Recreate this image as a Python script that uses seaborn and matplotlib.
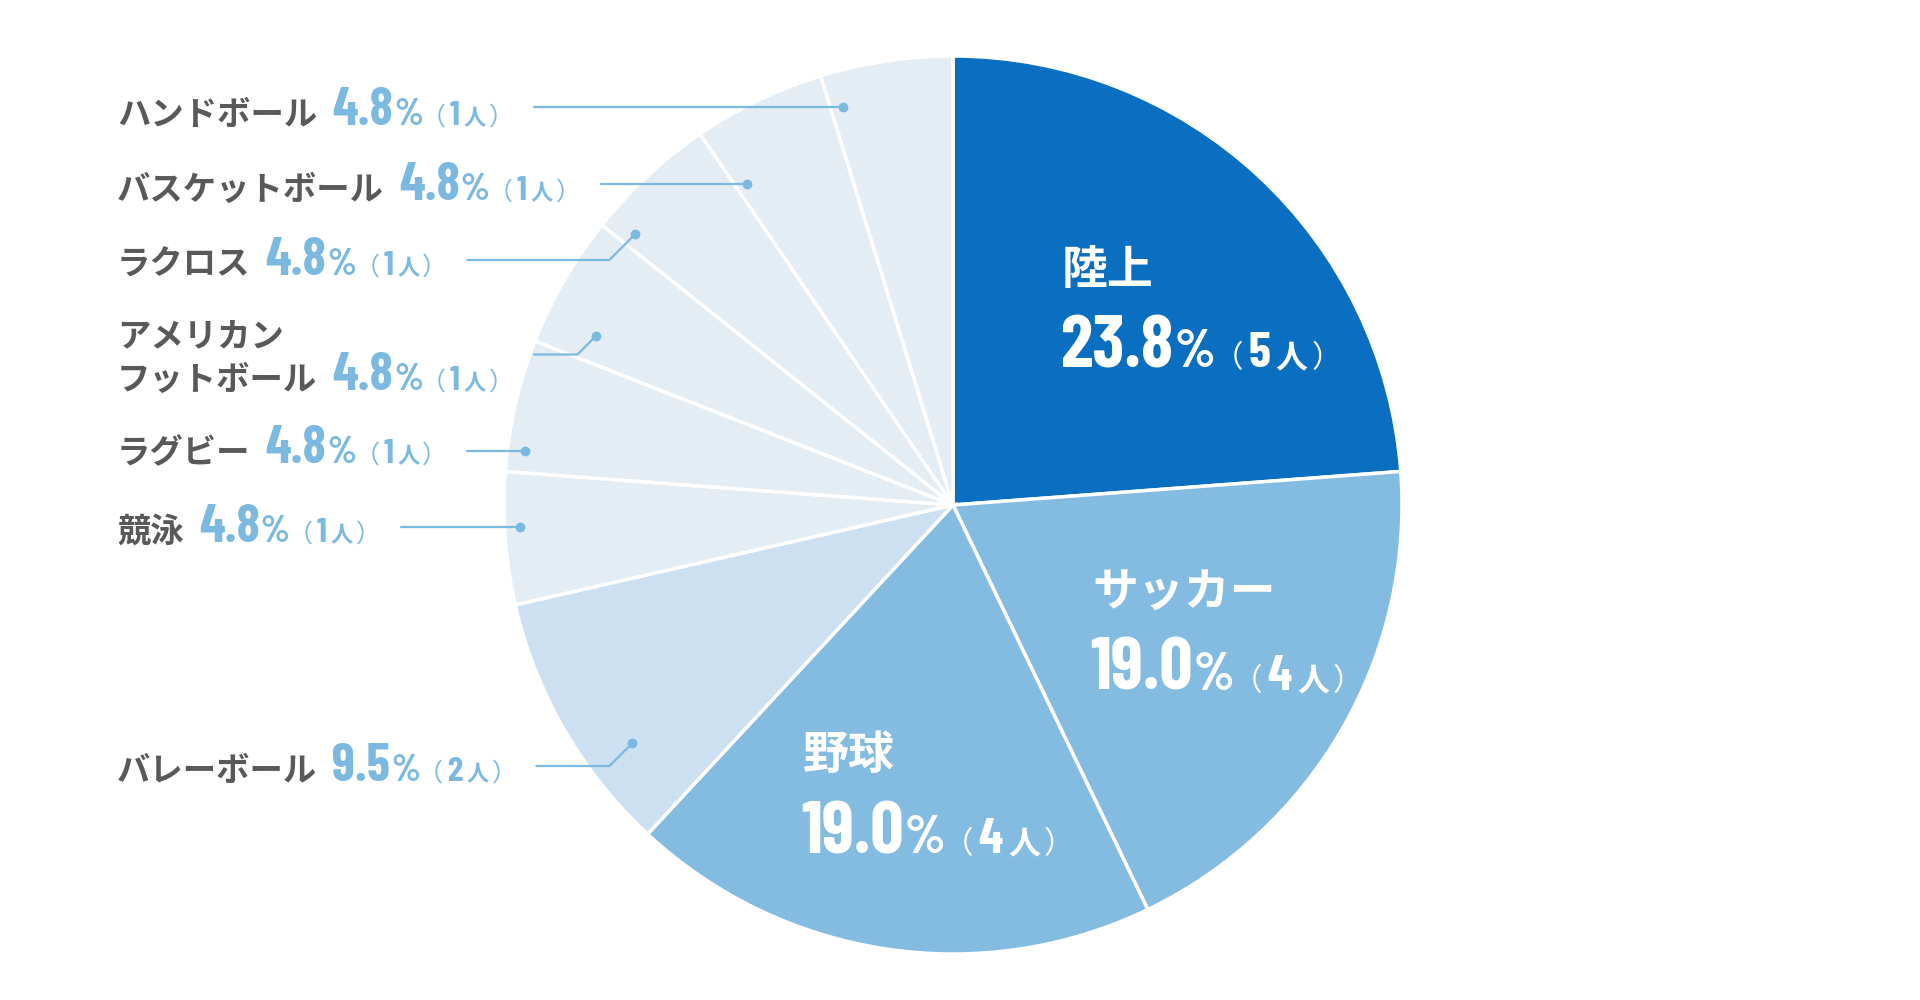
import matplotlib
matplotlib.use("Agg")
import matplotlib.pyplot as plt
import seaborn as sns
import numpy as np

# ---------------- data ----------------
sports = ["陸上", "サッカー", "野球", "バレーボール", "競泳", "ラグビー",
          "アメリカン\nフットボール", "ラクロス", "バスケットボール", "ハンドボール"]
counts = [5, 4, 4, 2, 1, 1, 1, 1, 1, 1]
percents = [23.8, 19.0, 19.0, 9.5, 4.8, 4.8, 4.8, 4.8, 4.8, 4.8]

# ---------------- style ----------------
slice_colors = ["#0b6fc1", "#84bbe1", "#84bbe1", "#cce0f1",
                "#e4ecf4", "#e4ecf4", "#e4ecf4", "#e4ecf4", "#e4ecf4", "#e4ecf4"]
GRAY = "#595959"
BLUE = "#7cb9e1"
CJK = ["Noto Sans CJK JP", "DejaVu Sans"]
NARROW = ["Barlow Condensed", "DejaVu Sans"]

sns.set_theme(style="white")
plt.rcParams["font.family"] = CJK

W, H = 1920, 1000
CX, CY, R = 953, 505, 449  # pie centre (top-origin pixels) and radius

fig = plt.figure(figsize=(W / 100, H / 100), dpi=100)
fig.patch.set_facecolor("white")
ax = fig.add_axes([0, 0, 1, 1])
ax.pie(counts, colors=slice_colors, startangle=90, counterclock=False,
       center=(CX, H - CY), radius=R,
       wedgeprops=dict(edgecolor="white", linewidth=2.5))
ax.set_xlim(0, W)
ax.set_ylim(0, H)
ax.set_aspect("equal")
ax.axis("off")

fig.canvas.draw()
renderer = fig.canvas.get_renderer()


def run(x, yb, segs):
    """Draw a run of text segments left to right on a common baseline (top-origin y)."""
    for s, style, gap in segs:
        x += gap
        t = ax.text(x, H - yb, s, ha="left", va="baseline", **style)
        x += t.get_window_extent(renderer=renderer).width
    return x


def value_segs(pct, n, color, big, pc, paren, digit, nin, name_gap, g):
    return [
        (f"{pct:.1f}", dict(fontfamily=NARROW, fontweight="bold", fontsize=big, color=color), name_gap),
        ("%", dict(fontfamily=NARROW, fontweight="bold", fontsize=pc, color=color), 1),
        ("（", dict(fontfamily=CJK, fontsize=paren, color=color), -2),
        (str(n), dict(fontfamily=NARROW, fontweight="bold", fontsize=digit, color=color), g),
        ("人", dict(fontfamily=CJK, fontweight="bold", fontsize=nin, color=color), g),
        ("）", dict(fontfamily=CJK, fontsize=paren, color=color), g - 1),
    ]


total = sum(counts)
cum = np.concatenate([[0], np.cumsum(counts)[:-1]])
mid_deg = 90 - 360 * (cum + np.array(counts) / 2) / total  # math angle of slice middle

# ---------------- inside labels (first three slices) ----------------
inside_pos = {0: (1062, 267, 367), 1: (1092, 590, 690), 2: (803, 752, 853)}  # x, name centre y, value baseline y
for i, (x, yc, yb) in inside_pos.items():
    run(x, yc + 17, [(sports[i], dict(fontfamily=CJK, fontweight="bold", fontsize=33, color="white"), 0)])
    run(x - 2, yb, value_segs(percents[i], counts[i], "white", 53, 38, 22, 36, 23, 0, 5))

# ---------------- outside labels with leader lines ----------------
row_centre = {3: 766, 4: 527, 5: 448, 6: 375, 7: 260, 8: 185, 9: 110}
# leader anchor: (angle offset from slice middle in degrees, radius fraction)
anchor = {3: (6.6, 0.89), 4: (-1.4, 0.965), 5: (5.6, 0.96), 6: (4.7, 0.88),
          7: (6.7, 0.93), 8: (6.9, 0.85), 9: (6.9, 0.92)}
LX = 117
LINE_SP = 41
for i, yc in row_centre.items():
    lines = sports[i].split("\n")
    for k, ln in enumerate(lines[:-1]):
        yk = yc - (len(lines) - 1 - k) * LINE_SP
        run(LX, yk + 13, [(ln, dict(fontfamily=CJK, fontweight="bold", fontsize=24, color=GRAY), 0)])
    segs = [(lines[-1], dict(fontfamily=CJK, fontweight="bold", fontsize=24, color=GRAY), 0)]
    segs += value_segs(percents[i], counts[i], BLUE, 38, 27, 18, 25, 16, 15, 4)
    xend = run(LX, yc + 15, segs)
    ly = yc - (len(lines) - 1) * LINE_SP / 2
    off, rf = anchor[i]
    a = np.deg2rad(mid_deg[i] + off)
    dx, dy = CX + rf * R * np.cos(a), CY - rf * R * np.sin(a)
    if abs(dy - ly) < 8:
        xs, ys = [xend + 20, dx], [H - dy, H - dy]
    else:
        ex = dx - abs(dy - ly)
        xs, ys = [xend + 20, ex, dx], [H - ly, H - ly, H - dy]
    ax.plot(xs, ys, color=BLUE, lw=1.6, solid_capstyle="round", zorder=5)
    ax.plot([dx], [H - dy], "o", color=BLUE, ms=6, zorder=6)

fig.savefig("out.png", dpi=100, facecolor="white")
